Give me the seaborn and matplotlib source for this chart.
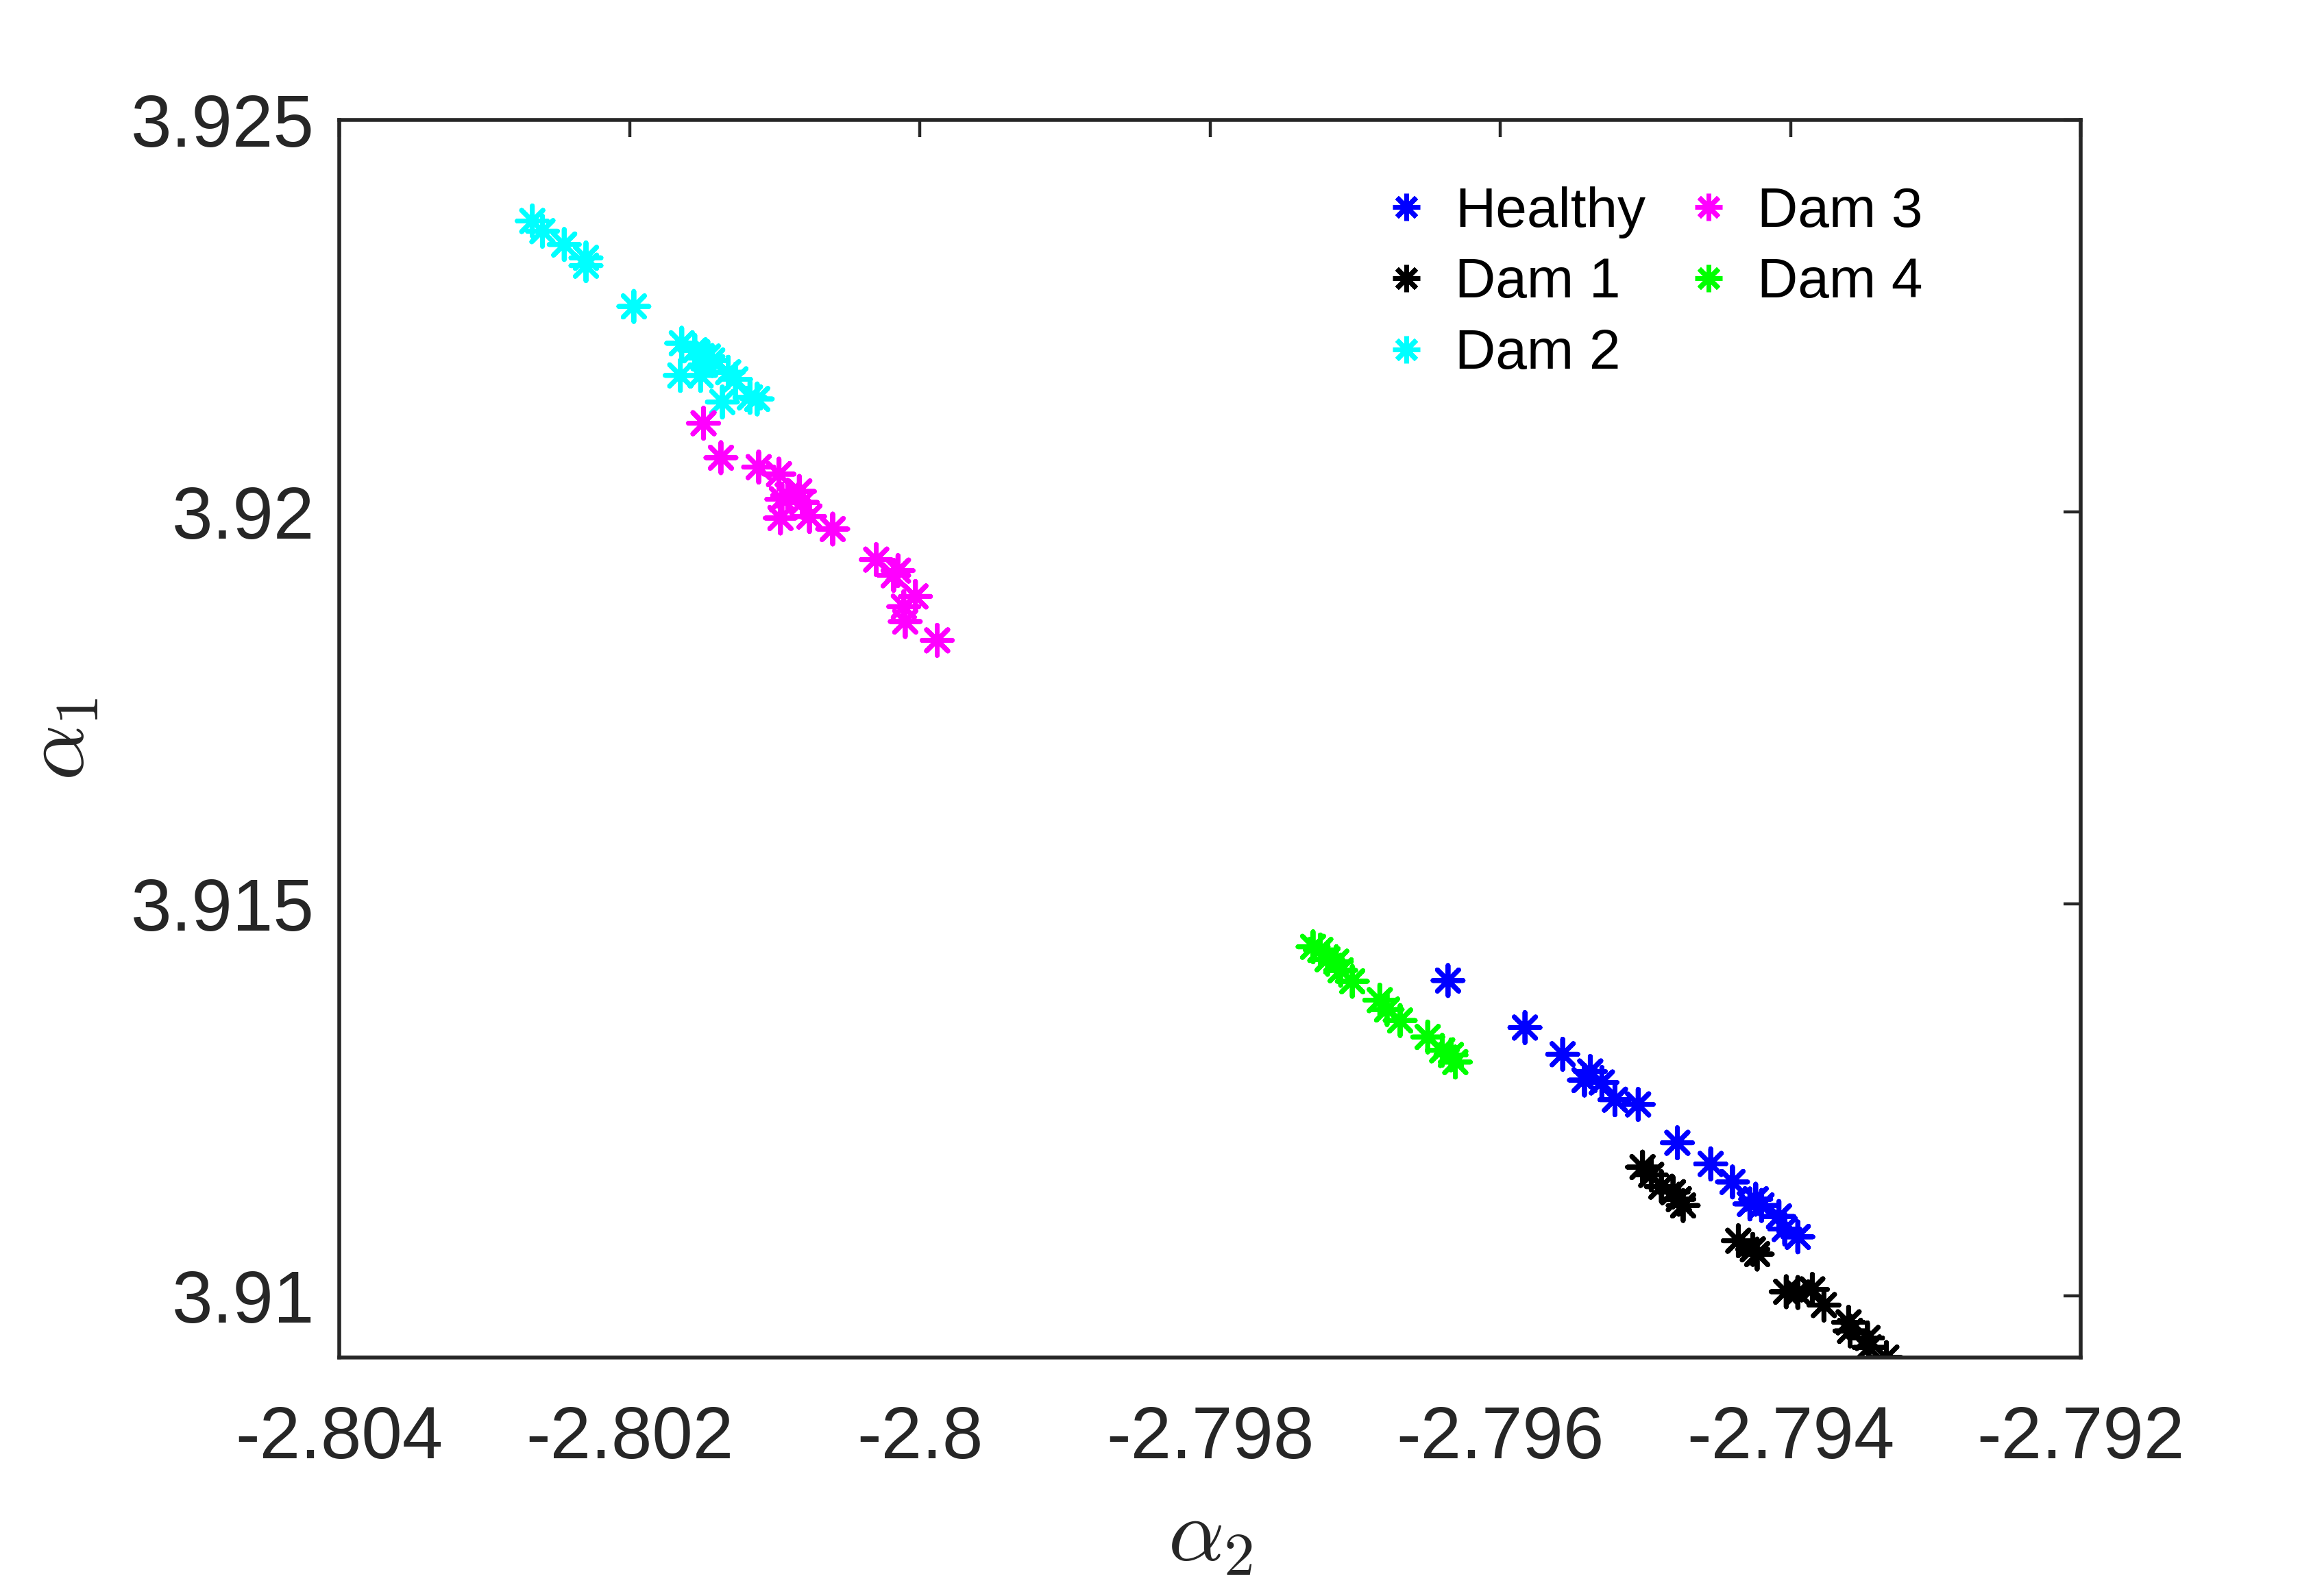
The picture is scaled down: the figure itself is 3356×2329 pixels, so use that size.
import numpy as np
import pandas as pd
import matplotlib
matplotlib.use("Agg")
import matplotlib.pyplot as plt
import seaborn as sns

# ---------------- data ----------------
groups = ["Healthy", "Dam 1", "Dam 2", "Dam 3", "Dam 4"]
colors = ["#0000FF", "#000000", "#00FFFF", "#FF00FF", "#00FF00"]

healthy_x = [-2.79636, -2.79583, -2.79557, -2.79538, -2.79542, -2.79530, -2.79521,
             -2.79505, -2.79478, -2.79455, -2.79440, -2.79424, -2.79428, -2.79420,
             -2.79408, -2.79404, -2.79395]
healthy_y = [3.91402, 3.91342, 3.91308, 3.91286, 3.91275, 3.91272, 3.91250,
             3.91244, 3.91195, 3.91168, 3.91145, 3.91123, 3.91117, 3.91115,
             3.91101, 3.91085, 3.91075]

dam1_x = [-2.79502, -2.79496, -2.79489, -2.79481, -2.79477, -2.79474, -2.79436,
          -2.79426, -2.79423, -2.79403, -2.79395, -2.79385, -2.79377, -2.79360,
          -2.79359, -2.79347, -2.79346, -2.79334]
dam1_y = [3.91164, 3.91154, 3.91139, 3.91132, 3.91123, 3.91115, 3.91070,
          3.91059, 3.91053, 3.91005, 3.91004, 3.91008, 3.90988, 3.90966,
          3.90955, 3.90946, 3.90934, 3.90921]

dam2_x = [-2.80267, -2.80260, -2.80245, -2.80230, -2.80230, -2.80197, -2.80164,
          -2.80165, -2.80155, -2.80149, -2.80143, -2.80151, -2.80127, -2.80136,
          -2.80112, -2.80117, -2.80146, -2.80132]
dam2_y = [3.92371, 3.92358, 3.92341, 3.92324, 3.92314, 3.92262, 3.92215,
          3.92174, 3.92206, 3.92196, 3.92193, 3.92174, 3.92169, 3.92140,
          3.92144, 3.92146, 3.92198, 3.92178]

dam3_x = [-2.80149, -2.80137, -2.80111, -2.80097, -2.80095, -2.80083, -2.80081,
          -2.80096, -2.80076, -2.80060, -2.80030, -2.80018, -2.80015, -2.80003,
          -2.80011, -2.80010, -2.79988, -2.80091]
dam3_y = [3.92113, 3.92069, 3.92057, 3.92048, 3.92016, 3.92026, 3.92012,
          3.91992, 3.91994, 3.91978, 3.91939, 3.91919, 3.91925, 3.91892,
          3.91879, 3.91860, 3.91836, 3.92021]

dam4_x = [-2.79729, -2.79719, -2.79713, -2.79702, -2.79683, -2.79678, -2.79669,
          -2.79650, -2.79640, -2.79631, -2.79724, -2.79710, -2.79634]
dam4_y = [3.91445, 3.91429, 3.91426, 3.91401, 3.91377, 3.91365, 3.91351,
          3.91330, 3.91313, 3.91298, 3.91441, 3.91415, 3.91307]

x_ticks = [-2.804, -2.802, -2.800, -2.798, -2.796, -2.794, -2.792]
x_ticklabels = ["-2.804", "-2.802", "-2.8", "-2.798", "-2.796", "-2.794", "-2.792"]
y_ticks = [3.910, 3.915, 3.920, 3.925]
y_ticklabels = ["3.91", "3.915", "3.92", "3.925"]

# ---------------- build table ----------------
xs = [healthy_x, dam1_x, dam2_x, dam3_x, dam4_x]
ys = [healthy_y, dam1_y, dam2_y, dam3_y, dam4_y]
frames = [pd.DataFrame({"a2": x, "a1": y, "group": g}) for g, x, y in zip(groups, xs, ys)]
df = pd.concat(frames, ignore_index=True)

sns.set_theme(style="white")
plt.rcParams["font.family"] = ["Liberation Sans", "DejaVu Sans"]
plt.rcParams["mathtext.fontset"] = "cm"

fig = plt.figure(figsize=(16.78, 11.645), dpi=200)
ax = fig.add_axes([0.1475, 0.1494, 0.9047 - 0.1475, 0.9249 - 0.1494])

sns.scatterplot(data=df, x="a2", y="a1", hue="group", hue_order=groups,
                palette=dict(zip(groups, colors)), marker=(8, 2, 0), s=250,
                linewidth=2.5, ax=ax, legend=True)

ax.set_xlim(-2.804, -2.792)
ax.set_ylim(3.90921, 3.925)
ax.set_xticks(x_ticks)
ax.set_xticklabels(x_ticklabels)
ax.set_yticks(y_ticks)
ax.set_yticklabels(y_ticklabels)

edge = "#262626"
for sp in ax.spines.values():
    sp.set_visible(True)
    sp.set_color(edge)
    sp.set_linewidth(2.0)
ax.tick_params(axis="both", which="major", direction="in", length=9, width=1.6,
               color=edge, labelcolor=edge, labelsize=38.5, top=True, right=True)
ax.tick_params(axis="x", pad=25)
ax.tick_params(axis="y", pad=13)
ax.grid(False)

ax.set_xlabel(r"$\alpha_2$", fontsize=46, color=edge)
ax.set_ylabel(r"$\alpha_1$", fontsize=46, color=edge)
ax.xaxis.set_label_coords(0.5, -0.1125)
ax.yaxis.set_label_coords(-0.136, 0.5)

handles, labels = ax.get_legend_handles_labels()
leg = ax.legend(handles, labels, loc="upper left", bbox_to_anchor=(0.587, 0.901),
                bbox_transform=fig.transFigure, ncol=2, frameon=False,
                fontsize=29.5, borderpad=0, handlelength=1.0, handletextpad=0.37,
                columnspacing=0.62, labelspacing=0.34, markerscale=0.9)
for t in leg.get_texts():
    t.set_color("black")

fig.savefig("out.png", dpi=200)
